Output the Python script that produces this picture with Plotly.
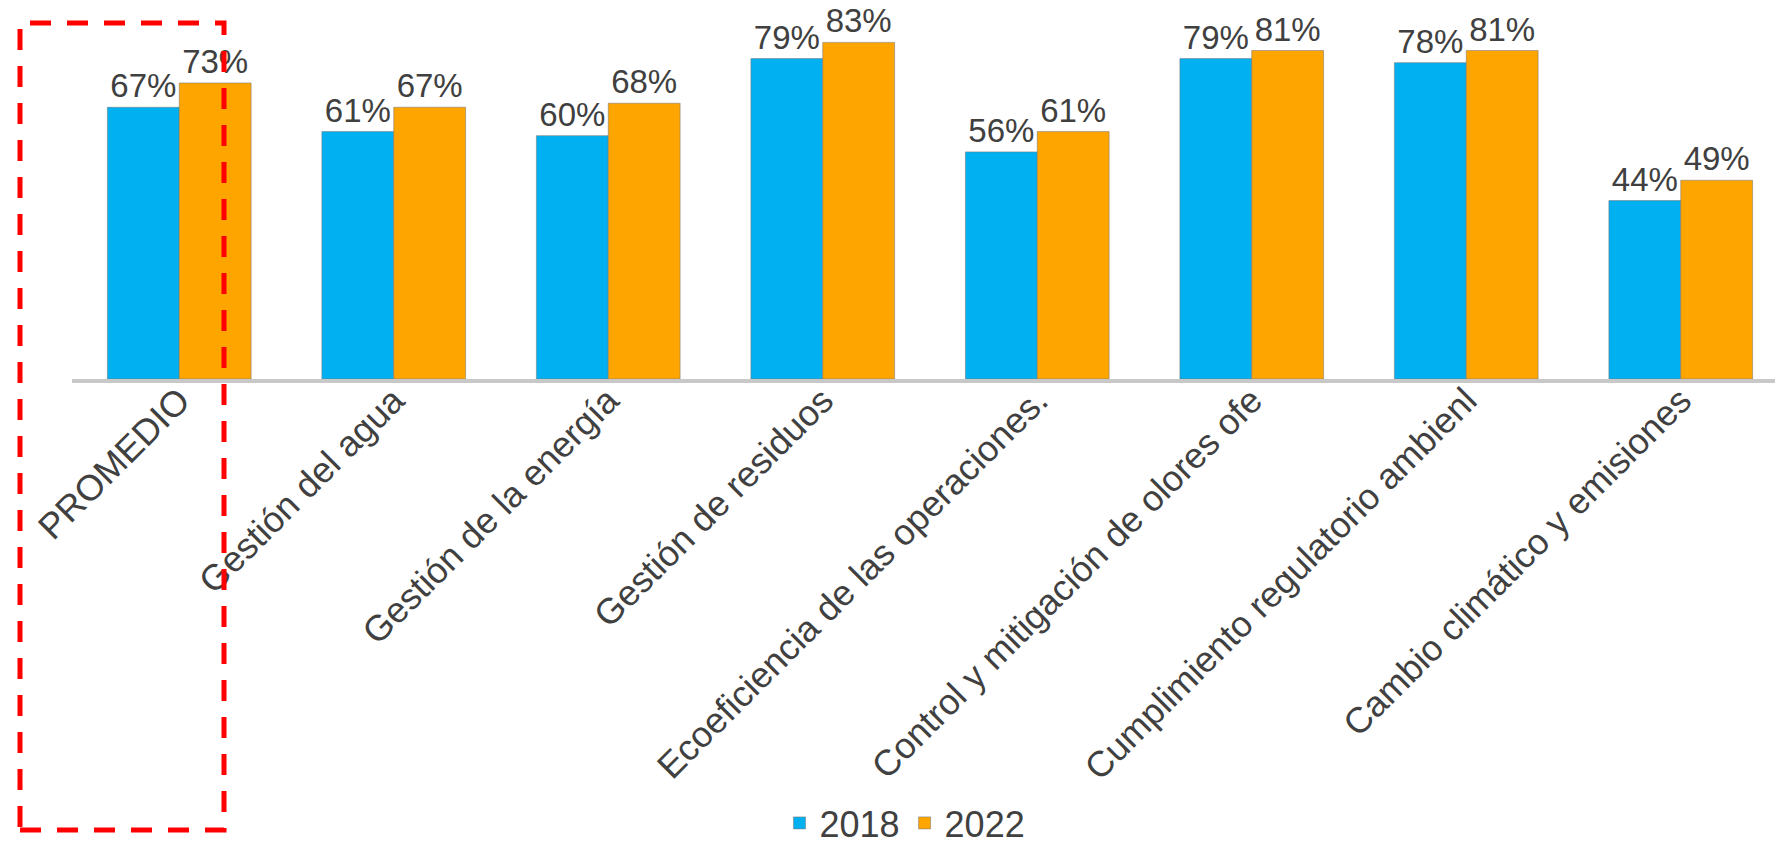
import plotly.graph_objects as go

categories = [
    "PROMEDIO",
    "Gestión del agua",
    "Gestión de la energía",
    "Gestión de residuos",
    "Ecoeficiencia de las operaciones.",
    "Control y mitigación de olores ofe",
    "Cumplimiento regulatorio ambienl",
    "Cambio climático y emisiones",
]
values_2018 = [0.67, 0.61, 0.60, 0.79, 0.56, 0.79, 0.78, 0.44]
values_2022 = [0.73, 0.67, 0.68, 0.83, 0.61, 0.81, 0.81, 0.49]
series_names = ["2018", "2022"]

FONT = "Liberation Sans, Arial, sans-serif"
TXT = "#404040"

fig = go.Figure()
for name, vals, color in [
    (series_names[0], values_2018, "#00B0F0"),
    (series_names[1], values_2022, "#FFA500"),
]:
    fig.add_trace(go.Bar(
        x=categories, y=vals, name=name,
        marker=dict(color=color, line=dict(color="rgba(120,120,120,0.55)", width=1)),
        texttemplate="%{y:.0%}", textposition="outside",
        textfont=dict(family=FONT, size=33, color=TXT),
        cliponaxis=False,
    ))

W, H = 1783, 852
L, R = 64, 3
T, B = 6, 481
pw = W - L - R
ph = H - T - B

def px2x(px):
    return (px - L) / pw

def py2y(py):
    return (H - B - py) / ph

fig.update_layout(
    width=W, height=H,
    margin=dict(l=L, r=R, t=T, b=B, autoexpand=False),
    plot_bgcolor="white", paper_bgcolor="white",
    barmode="group", bargap=0.33, bargroupgap=0,
    font=dict(family=FONT, color=TXT),
    showlegend=True,
    legend=dict(
        orientation="h", x=px2x(897), xanchor="center",
        y=py2y(815), yanchor="middle",
        font=dict(family=FONT, size=36, color=TXT),
        itemwidth=30, tracegroupgap=0,
    ),
    xaxis=dict(
        showline=True, linecolor="#C8C8C8", linewidth=4,
        ticks="", tickangle=-45, ticklabelstandoff=-18,
        tickfont=dict(family=FONT, size=36, color=TXT),
        showgrid=False,
    ),
    yaxis=dict(
        range=[0, 0.9], visible=False, showgrid=False, zeroline=False,
    ),
)

fig.add_shape(
    type="rect", xref="paper", yref="paper",
    x0=px2x(12), x1=px2x(216), y0=py2y(822), y1=py2y(15),
    line=dict(color="#FF0000", width=5, dash="21px,16px"),
    fillcolor="rgba(0,0,0,0)", layer="above",
)

fig.write_html("out.html")
